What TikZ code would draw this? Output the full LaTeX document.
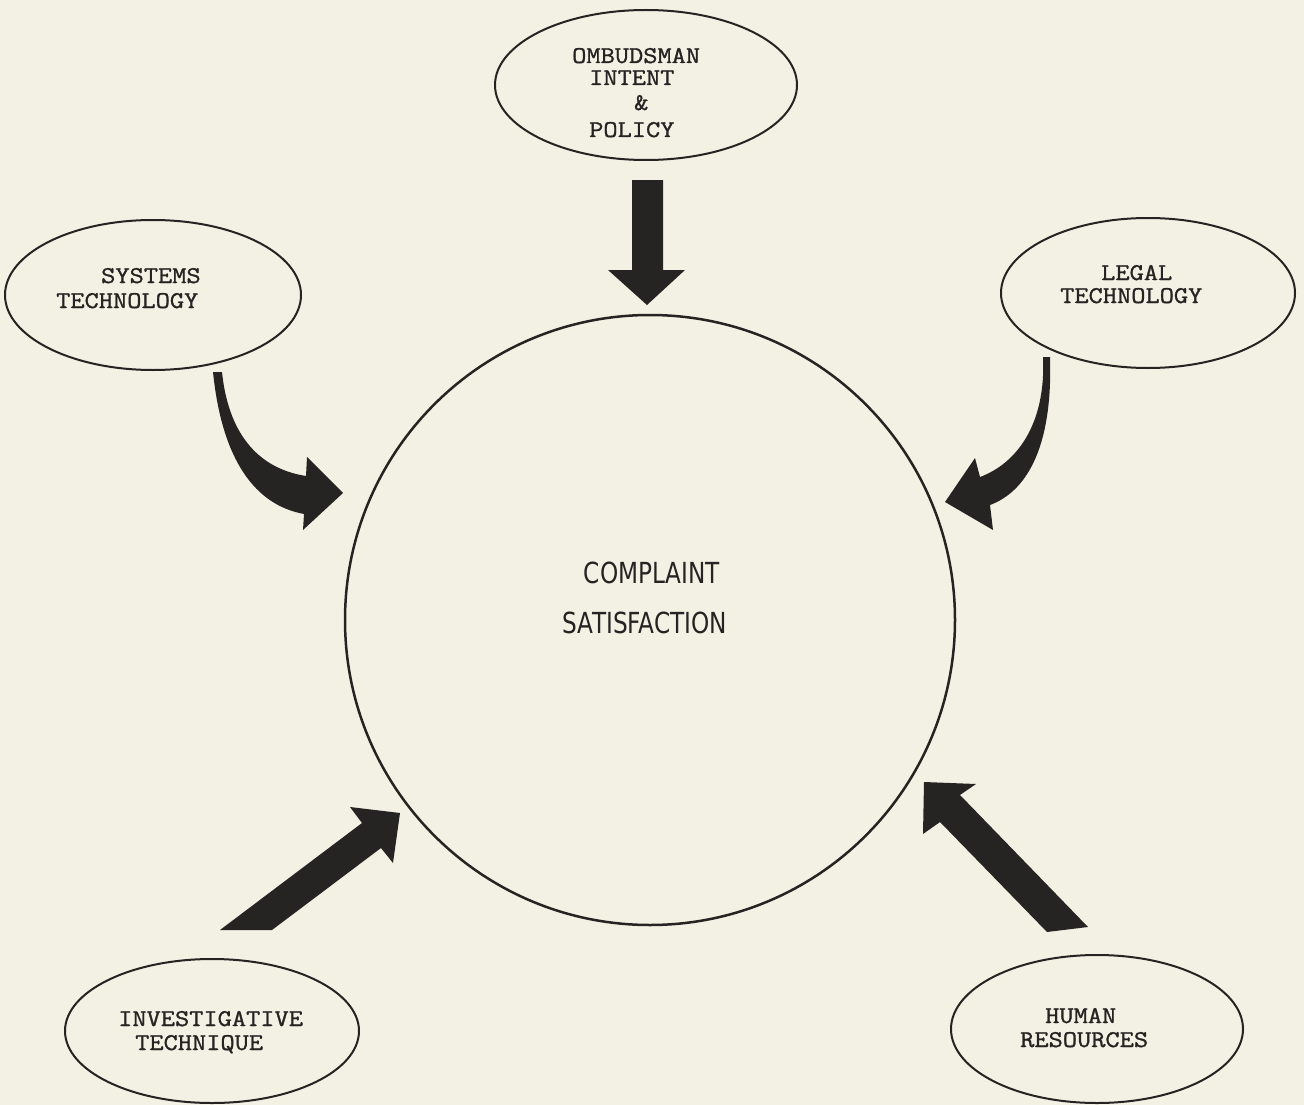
\documentclass[tikz,border=0pt]{standalone}
\usepackage{fontspec}
\newfontfamily\typew[FakeStretch=1.15,FakeBold=1.2]{Latin Modern Mono}
\newfontfamily\condsans[FakeStretch=0.8]{DejaVu Sans}
\usetikzlibrary{shapes.geometric}
\definecolor{paper}{RGB}{243,241,228}
\definecolor{ink}{RGB}{38,36,34}
\begin{document}
\begin{tikzpicture}[x=1pt,y=-1pt,
  oval/.style={ellipse, draw=ink, line width=2pt, inner sep=0pt},
  lbl/.style={font=\typew\fontsize{24}{24}\selectfont, text=ink, inner sep=0pt, anchor=base west},
  big/.style={font=\condsans\fontsize{29}{29}\selectfont, text=ink, inner sep=0pt, anchor=base},
  blockarrow/.style={fill=ink, draw=none}]
\fill[paper] (0,0) rectangle (1304,1105);
\useasboundingbox (0,0) rectangle (1304,1105);

% central circle
\node[circle, draw=ink, line width=2.5pt, minimum size=610pt, inner sep=0pt] (hub) at (650,620) {};
\node[big] (c1) at (652,583) {COMPLAINT};
\node[big] (c2) at (645,633) {SATISFACTION};

% ellipses
\node[oval, minimum width=302pt, minimum height=150pt] (omb) at (646,85) {};
\node[oval, minimum width=296pt, minimum height=150pt] (sys) at (153,295) {};
\node[oval, minimum width=294pt, minimum height=150pt] (leg) at (1148,293) {};
\node[oval, minimum width=294pt, minimum height=144pt] (inv) at (212,1031) {};
\node[oval, minimum width=292pt, minimum height=148pt] (hum) at (1097,1029) {};

% labels
\node[lbl] (o1) at (572,63) {OMBUDSMAN};
\node[lbl] (o2) at (589,85) {INTENT};
\node[lbl] (o3) at (634,110) {\&};
\node[lbl] (o4) at (589,137) {POLICY};

\node[lbl] (s1) at (101,283) {SYSTEMS};
\node[lbl] (s2) at (56,308) {TECHNOLOGY};

\node[lbl] (l1) at (1101,280) {LEGAL};
\node[lbl] (l2) at (1060,303) {TECHNOLOGY};

\node[lbl] (i1) at (118,1026) {INVESTIGATIVE};
\node[lbl] (i2) at (135,1050) {TECHNIQUE};

\node[lbl] (h1) at (1045,1023) {HUMAN};
\node[lbl] (h2) at (1020,1047) {RESOURCES};

% block arrows
\fill[blockarrow] (632,180) -- (632,270) -- (608,270) -- (647,305) -- (685,270) -- (663,270) -- (663,180) -- cycle;

\fill[blockarrow] (222,372) .. controls (228,430) and (255,468) .. (306,476) -- (307,457) -- (343,493) -- (303,530) -- (304,514) .. controls (255,505) and (222,460) .. (213,372) -- cycle;

\fill[blockarrow] (1043,357) .. controls (1046,420) and (1020,462) .. (980,477) -- (975,458) -- (945,502) -- (993,530) -- (990,505) .. controls (1025,492) and (1053,450) .. (1050,357) -- cycle;

\fill[blockarrow] (220,930) -- (362,823) -- (350,807) -- (400,813) -- (393,863) -- (381,848) -- (272,930) -- cycle;

\fill[blockarrow] (1047,932) -- (940,822) -- (923,834) -- (924,782) -- (976,784) -- (960,795) -- (1088,927) -- cycle;
\end{tikzpicture}
\end{document}
